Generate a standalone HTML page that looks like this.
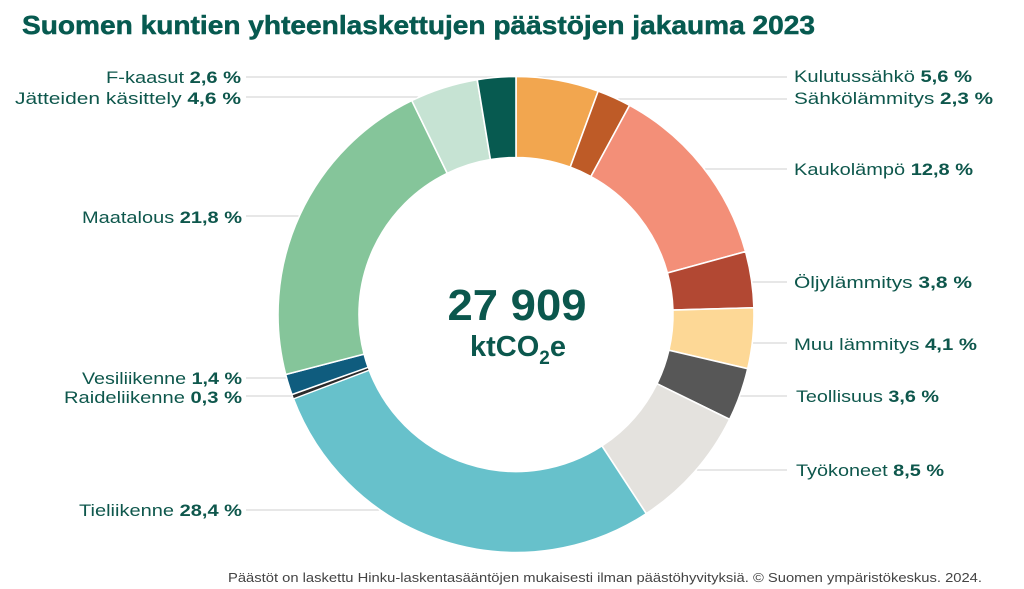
<!DOCTYPE html>
<html>
<head>
<meta charset="utf-8">
<style>
  html,body{margin:0;padding:0;background:#fff;}
  svg{display:block;}
  text{font-family:"Liberation Sans", "DejaVu Sans", sans-serif;}
</style>
</head>
<body>
<svg width="1024" height="589" viewBox="0 0 1024 589" xmlns="http://www.w3.org/2000/svg">
  <rect width="1024" height="589" fill="#ffffff"/>

  <!-- Title -->
  <text x="22" y="34" font-size="26" font-weight="bold" fill="#075a50" stroke="#075a50" stroke-width="0.5" textLength="793" lengthAdjust="spacingAndGlyphs">Suomen kuntien yhteenlaskettujen päästöjen jakauma 2023</text>

  <!-- Leader lines (drawn beneath donut) -->
  <g stroke="#cfcfcf" stroke-width="1" fill="none">
    <line x1="246" y1="77" x2="516" y2="77"/>
    <line x1="246" y1="97" x2="420" y2="97"/>
    <line x1="246" y1="216" x2="330" y2="216"/>
    <line x1="246" y1="378" x2="320" y2="378"/>
    <line x1="246" y1="396" x2="320" y2="396"/>
    <line x1="246" y1="510" x2="420" y2="510"/>
    <line x1="516" y1="77" x2="787" y2="77"/>
    <line x1="600" y1="99" x2="787" y2="99"/>
    <line x1="680" y1="169" x2="787" y2="169"/>
    <line x1="720" y1="282" x2="787" y2="282"/>
    <line x1="720" y1="343" x2="787" y2="343"/>
    <line x1="700" y1="396" x2="787" y2="396"/>
    <line x1="640" y1="470" x2="787" y2="470"/>
  </g>

  <!-- Donut -->
  <g stroke="#ffffff" stroke-width="1.6" stroke-linejoin="miter">
    <path fill="#f2a64f" d="M516,76.5 A238,238 0 0 1 598.18,91.14 L570.21,167.16 A157,157 0 0 0 516,157.5 Z"/>
    <path fill="#be5b27" d="M598.18,91.14 A238,238 0 0 1 629.55,105.34 L590.90,176.52 A157,157 0 0 0 570.21,167.16 Z"/>
    <path fill="#f38f78" d="M629.55,105.34 A238,238 0 0 1 745.53,251.57 L667.41,272.99 A157,157 0 0 0 590.90,176.52 Z"/>
    <path fill="#b24833" d="M745.53,251.57 A238,238 0 0 1 753.90,307.76 L672.94,310.05 A157,157 0 0 0 667.41,272.99 Z"/>
    <path fill="#fdd896" d="M753.90,307.76 A238,238 0 0 1 747.74,368.71 L668.87,350.26 A157,157 0 0 0 672.94,310.05 Z"/>
    <path fill="#575757" d="M747.74,368.71 A238,238 0 0 1 729.65,419.39 L656.94,383.69 A157,157 0 0 0 668.87,350.26 Z"/>
    <path fill="#e4e2de" d="M729.65,419.39 A238,238 0 0 1 646.29,513.67 L601.95,445.88 A157,157 0 0 0 656.94,383.69 Z"/>
    <path fill="#67c1cb" d="M646.29,513.67 A238,238 0 0 1 293.43,398.78 L369.18,370.09 A157,157 0 0 0 601.95,445.88 Z"/>
    <path fill="#2b2b2b" stroke-width="1.2" d="M293.43,398.78 A238,238 0 0 1 291.87,394.57 L368.15,367.32 A157,157 0 0 0 369.18,370.09 Z"/>
    <path fill="#0f5c7e" d="M291.87,394.57 A238,238 0 0 1 285.69,374.52 L364.07,354.10 A157,157 0 0 0 368.15,367.32 Z"/>
    <path fill="#85c59a" d="M285.69,374.52 A238,238 0 0 1 411.77,100.54 L447.24,173.36 A157,157 0 0 0 364.07,354.10 Z"/>
    <path fill="#c6e3d3" d="M411.77,100.54 A238,238 0 0 1 477.22,79.68 L490.42,159.60 A157,157 0 0 0 447.24,173.36 Z"/>
    <path fill="#075a50" d="M477.22,79.68 A238,238 0 0 1 516,76.5 L516,157.5 A157,157 0 0 0 490.42,159.60 Z"/>
  </g>

  <!-- Center text -->
  <text x="517" y="320" font-size="44" font-weight="bold" fill="#0b574d" text-anchor="middle" textLength="139" lengthAdjust="spacingAndGlyphs">27 909</text>
  <text x="470" y="356" font-size="29" font-weight="bold" fill="#0b574d"><tspan>ktCO</tspan><tspan font-size="19" dy="8">2</tspan><tspan dy="-8">e</tspan></text>

  <!-- Left labels -->
  <g font-size="17" fill="#0e574c" text-anchor="end">
    <text x="241" y="83" textLength="135" lengthAdjust="spacingAndGlyphs">F-kaasut <tspan font-weight="bold">2,6 %</tspan></text>
    <text x="241" y="104" textLength="226" lengthAdjust="spacingAndGlyphs">Jätteiden käsittely <tspan font-weight="bold">4,6 %</tspan></text>
    <text x="242" y="223" textLength="160" lengthAdjust="spacingAndGlyphs">Maatalous <tspan font-weight="bold">21,8 %</tspan></text>
    <text x="242" y="384" textLength="160" lengthAdjust="spacingAndGlyphs">Vesiliikenne <tspan font-weight="bold">1,4 %</tspan></text>
    <text x="242" y="403" textLength="178" lengthAdjust="spacingAndGlyphs">Raideliikenne <tspan font-weight="bold">0,3 %</tspan></text>
    <text x="242" y="516" textLength="163" lengthAdjust="spacingAndGlyphs">Tieliikenne <tspan font-weight="bold">28,4 %</tspan></text>
  </g>

  <!-- Right labels -->
  <g font-size="17" fill="#0e574c" text-anchor="start">
    <text x="794" y="82" textLength="178" lengthAdjust="spacingAndGlyphs">Kulutussähkö <tspan font-weight="bold">5,6 %</tspan></text>
    <text x="794" y="104" textLength="199" lengthAdjust="spacingAndGlyphs">Sähkölämmitys <tspan font-weight="bold">2,3 %</tspan></text>
    <text x="794" y="175" textLength="179" lengthAdjust="spacingAndGlyphs">Kaukolämpö <tspan font-weight="bold">12,8 %</tspan></text>
    <text x="794" y="288" textLength="178" lengthAdjust="spacingAndGlyphs">Öljylämmitys <tspan font-weight="bold">3,8 %</tspan></text>
    <text x="794" y="350" textLength="183" lengthAdjust="spacingAndGlyphs">Muu lämmitys <tspan font-weight="bold">4,1 %</tspan></text>
    <text x="796" y="402" textLength="143" lengthAdjust="spacingAndGlyphs">Teollisuus <tspan font-weight="bold">3,6 %</tspan></text>
    <text x="796" y="476" textLength="148" lengthAdjust="spacingAndGlyphs">Työkoneet <tspan font-weight="bold">8,5 %</tspan></text>
  </g>

  <!-- Footer -->
  <text x="982" y="582" font-size="12.5" fill="#444444" text-anchor="end" textLength="754" lengthAdjust="spacingAndGlyphs">Päästöt on laskettu Hinku-laskentasääntöjen mukaisesti ilman päästöhyvityksiä. © Suomen ympäristökeskus. 2024.</text>
</svg>
</body>
</html>
